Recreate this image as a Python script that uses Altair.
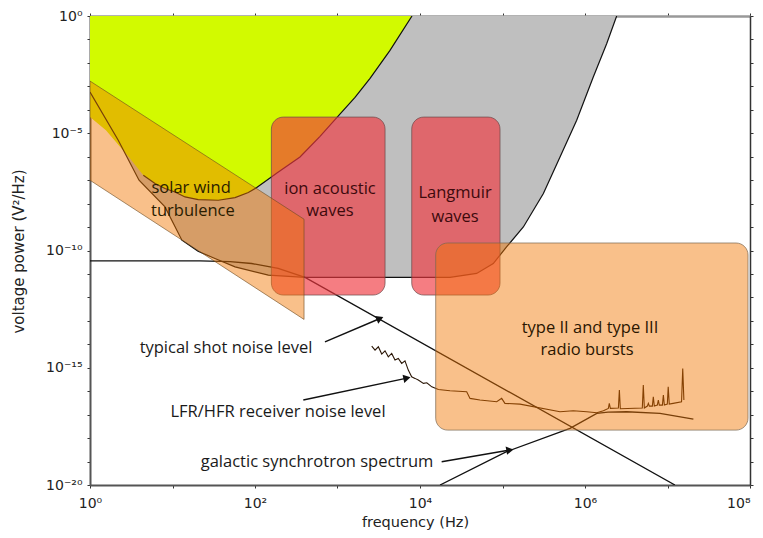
import altair as alt
import pandas as pd

# ---------------- data ----------------
# lower boundary of the grey region (quasi-thermal noise envelope)
gray_f = [1, 2.2, 3.93, 8.11, 13.0, 20.4, 32.7, 57.3, 145, 404, 2.31e4, 4.86e4, 7.73e4,
          1.12e5, 1.79e5, 3.13e5, 4.98e5, 7.93e5, 1.26e6, 1.83e6, 2.42e6]
gray_p = [5.73e-4, 5.01e-6, 9.89e-8, 7.21e-9, 2.75e-10, 9.3e-11, 4.56e-11, 2.0e-11, 8.87e-12,
          7.2e-12, 7.2e-12, 1.05e-11, 2.79e-11, 1.42e-10, 1.01e-9, 2.69e-8, 9.7e-7, 3.56e-5,
          2.49e-3, 6.6e-2, 1.0]

# lower boundary of the yellow-green region
yellow_f = [1, 1.56, 2.97, 4.43, 6.14, 8.11, 10.7, 14.2, 20.5, 35.9, 57.3, 83.0, 105, 190,
            351, 614, 986, 1630, 2480, 4330, 8000]
yellow_p = [4.92e-5, 1.34e-5, 9.44e-7, 1.61e-7, 7.16e-8, 4.38e-8, 3.14e-8, 1.92e-8, 1.49e-8,
            1.39e-8, 1.81e-8, 2.96e-8, 4.83e-8, 2.17e-7, 9.73e-7, 7.41e-6, 4.79e-5, 3.40e-4,
            2.19e-3, 3.42e-2, 1.0]

# upper limit of the plot (regions extend to it)
top_p = 1.0

# solar wind turbulence band (parallelogram)
band_f = [1, 393]
band_top = [1.68e-3, 2.16e-9]
band_bottom = [9.89e-8, 1.15e-13]

# typical shot noise level
shot_f = [1, 21.5, 49.8, 91.2, 191, 404, 1.23e7]
shot_p = [3.61e-11, 3.61e-11, 3.33e-11, 2.79e-11, 1.71e-11, 7.08e-12, 1e-20]

# galactic synchrotron spectrum
gal_f = [1.75e4, 1.12e5, 6.58e5, 1.39e6, 1.9e6, 3.2e6, 8.11e6, 2.06e7]
gal_p = [1e-20, 2.63e-19, 2.61e-18, 1.14e-17, 1.29e-17, 1.33e-17, 1.14e-17, 6.49e-18]

# LFR/HFR receiver noise level
rx_f = [2600, 2851, 3126, 3436, 3767, 4130, 4539, 4977, 5458, 5998, 6577, 7211, 7925, 8690,
        9528, 1.10e4, 1.21e4, 1.39e4, 1.67e4, 2.31e4, 3.68e4, 4.04e4, 5.33e4, 8.51e4, 9.77e4,
        1.07e5, 1.63e5, 4.98e5, 7.21e5, 1.05e6, 1.39e6, 1.67e6, 1.92e6, 1.97e6, 2.03e6,
        2.54e6, 2.61e6, 2.68e6, 4.95e6, 5.09e6, 5.24e6, 5.70e6, 5.86e6, 6.03e6, 6.55e6,
        6.73e6, 6.92e6, 7.53e6, 7.74e6, 7.96e6, 8.67e6, 8.91e6, 9.16e6, 9.95e6, 1.02e7,
        1.05e7, 1.17e7, 1.48e7, 1.53e7, 1.58e7]
rx_p = [8.38e-15, 5.66e-15, 7.82e-15, 3.82e-15, 5.27e-15, 2.92e-15, 4.08e-15, 2.12e-15,
        2.50e-15, 1.53e-15, 1.98e-15, 7.94e-16, 4.11e-16, 3.52e-16, 2.98e-16, 2.15e-16,
        2.29e-16, 1.54e-16, 1.19e-16, 1.04e-16, 9.44e-17, 4.94e-17, 4.19e-17, 3.54e-17,
        4.94e-17, 3.03e-17, 2.82e-17, 1.33e-17, 1.47e-17, 1.33e-17, 1.20e-17, 1.47e-17,
        1.85e-17, 3.03e-17, 1.85e-17, 1.91e-17, 1.12e-16, 1.78e-17, 1.91e-17, 1.82e-16,
        1.91e-17, 2.32e-17, 3.03e-17, 2.32e-17, 2.32e-17, 5.78e-17, 2.32e-17, 2.56e-17,
        4.19e-17, 2.56e-17, 2.56e-17, 6.84e-17, 2.56e-17, 2.82e-17, 1.54e-16, 2.82e-17,
        3.03e-17, 3.5e-17, 9.38e-16, 4.19e-17]

# red boxes: ion acoustic waves, Langmuir waves
red_f0 = [158, 7940]
red_f1 = [3770, 9.33e4]
red_p0 = [4.9e-5, 4.9e-5]
red_p1 = [1.26e-12, 1.26e-12]

# type II / type III radio burst box
burst_f0 = [1.55e4]
burst_f1 = [9.46e7]
burst_p0 = [2.09e-10]
burst_p1 = [2.19e-18]

# annotation texts
label_text = ["solar wind", "turbulence", "ion acoustic", "waves", "Langmuir", "waves",
              "type II and type III", "radio bursts", "typical shot noise level",
              "LFR/HFR receiver noise level", "galactic synchrotron spectrum"]
label_f = [16.8, 17.7, 811, 811, 2.66e4, 2.66e4, 1.15e6, 1.06e6, 44.5, 190, 565]
label_p = [4.5e-8, 4.86e-9, 4.38e-8, 4.86e-9, 2.85e-8, 2.70e-9, 4.75e-14, 5.65e-15,
           6.68e-15, 1.33e-17, 9.84e-20]
label_group = ["solar", "solar", "red", "red", "red", "red", "burst", "burst",
               "plain", "plain", "plain"]

# arrows (start -> head)
arrow_f0 = [705, 385, 1.83e4]
arrow_p0 = [1.28e-14, 4.19e-17, 9.84e-20]
arrow_f1 = [3273, 6950, 1.23e5]
arrow_p1 = [1.26e-13, 3.62e-16, 3.10e-19]
arrow_angle = [67, 78, 80]

x_ticks = [1, 10, 1e2, 1e3, 1e4, 1e5, 1e6, 1e7, 1e8]
y_ticks = [1e-20, 1e-19, 1e-18, 1e-17, 1e-16, 1e-15, 1e-14, 1e-13, 1e-12, 1e-11, 1e-10,
           1e-9, 1e-8, 1e-7, 1e-6, 1e-5, 1e-4, 1e-3, 1e-2, 1e-1, 1]

# ---------------- frames ----------------
gray_df = pd.DataFrame({"f": gray_f, "p": gray_p, "top": top_p})
yellow_df = pd.DataFrame({"f": yellow_f, "p": yellow_p, "top": top_p})
yellow_line_df = yellow_df.iloc[3:]
band_df = pd.DataFrame({"f": band_f, "p": band_top, "p2": band_bottom})
shot_df = pd.DataFrame({"f": shot_f, "p": shot_p})
gal_df = pd.DataFrame({"f": gal_f, "p": gal_p})
rx_df = pd.DataFrame({"f": rx_f, "p": rx_p, "i": list(range(len(rx_f)))})
red_df = pd.DataFrame({"f": red_f0, "f2": red_f1, "p": red_p0, "p2": red_p1})
burst_df = pd.DataFrame({"f": burst_f0, "f2": burst_f1, "p": burst_p0, "p2": burst_p1})
lab_df = pd.DataFrame({"t": label_text, "f": label_f, "p": label_p, "g": label_group})
arr_rows = []
for k in range(len(arrow_f0)):
    arr_rows.append({"a": k, "o": 0, "f": arrow_f0[k], "p": arrow_p0[k]})
    arr_rows.append({"a": k, "o": 1, "f": arrow_f1[k], "p": arrow_p1[k]})
arr_df = pd.DataFrame(arr_rows)
head_df = pd.DataFrame({"f": arrow_f1, "p": arrow_p1, "ang": arrow_angle})
tick_df = pd.DataFrame({"f": [1.0], "p": [1.0]})

# ---------------- scales / axes ----------------
XS = alt.Scale(type="log", domain=[1, 1e8])
YS = alt.Scale(type="log", domain=[1e-20, 1])

ex = "round(log(datum.value)/LN10)"
x_label = (f"({ex} % 2 == 0) ? '10' + ({ex} == 0 ? '⁰' : {ex} == 2 ? '²' : "
           f"{ex} == 4 ? '⁴' : {ex} == 6 ? '⁶' : '⁸') : ''")
y_label = (f"({ex} % 5 == 0) ? '10' + ({ex} == 0 ? '⁰' : {ex} == -5 ? '⁻⁵' : "
           f"{ex} == -10 ? '⁻¹⁰' : {ex} == -15 ? '⁻¹⁵' : '⁻²⁰') : ''")

x_axis = alt.Axis(orient="bottom", values=x_ticks, labelExpr=x_label,
                  title="frequency  (Hz)", grid=False,
                  tickSize=3, tickColor="#333", domainColor="#555", domainWidth=2,
                  labelFont="DejaVu Sans", labelFontSize=14, labelColor="#222",
                  labelPadding=8, labelFlush=False,
                  labelAlign={"condition": {"test": "datum.value > 5e7", "value": "right"},
                              "value": "center"},
                  titleFont="DejaVu Sans", titleFontSize=14.5, titleFontWeight="normal",
                  titleColor="#222", titleX=325, titleY=37, titleBaseline="middle",
                  titleAlign="center")
y_axis = alt.Axis(orient="left", values=y_ticks, labelExpr=y_label,
                  title="voltage  power  (V²/Hz)",
                  grid=False, tickSize=3, tickColor="#333", domainColor="#555",
                  domainWidth=2, labelFont="DejaVu Sans", labelFontSize=14,
                  labelColor="#222", labelPadding=5, labelFlush=False,
                  titleFont="DejaVu Sans", titleFontSize=15, titleFontWeight="normal",
                  titleColor="#222", titleX=-72, titleY=235, titleBaseline="middle",
                  titleAlign="center", titleAngle=270)
x_top = alt.Axis(orient="top", values=x_ticks, labels=False, title=None, grid=False,
                 tickSize=3, tickColor="#333", domainColor="#999", domainWidth=2.5)
y_right = alt.Axis(orient="right", values=y_ticks, labels=False, title=None, grid=False,
                   tickSize=3, tickColor="#333", domainColor="#333", domainWidth=1.5)


def X(field="f", axis=None):
    return alt.X(f"{field}:Q", scale=XS, axis=axis)


def Y(field="p", axis=None):
    return alt.Y(f"{field}:Q", scale=YS, axis=axis, stack=None)


gray_area = alt.Chart(gray_df).mark_area(color="#bfbfbf", clip=True).encode(
    x=X(), y=Y(), y2="top:Q")
yellow_area = alt.Chart(yellow_df).mark_area(color="#d2fa00", clip=True).encode(
    x=X(), y=Y(), y2="top:Q")

gray_line = alt.Chart(gray_df).mark_line(color="#111", strokeWidth=1.2, clip=True).encode(
    x=X(), y=Y())
yellow_line = alt.Chart(yellow_line_df).mark_line(color="#111", strokeWidth=1.2,
                                                  clip=True).encode(x=X(), y=Y())
shot_line = alt.Chart(shot_df).mark_line(color="#111", strokeWidth=1.3, clip=True).encode(
    x=X(), y=Y())
gal_line = alt.Chart(gal_df).mark_line(color="#111", strokeWidth=1.3, clip=True).encode(
    x=X(), y=Y())
rx_line = alt.Chart(rx_df).mark_line(color="#2a1606", strokeWidth=1.1, clip=True).encode(
    x=X(), y=Y(), order="i:Q")

red_boxes = alt.Chart(red_df).mark_rect(cornerRadius=12, color="#f0373f", fillOpacity=0.65,
                                        stroke="#6a4848", strokeWidth=1,
                                        strokeOpacity=0.7).encode(
    x=X(), x2="f2", y=Y(), y2="p2")

band = alt.Chart(band_df).mark_area(color="#f27600", fillOpacity=0.46, stroke="#6a4a20",
                                    strokeWidth=1, strokeOpacity=0.6, clip=True).encode(
    x=X(), y=Y(), y2="p2")

burst_box = alt.Chart(burst_df).mark_rect(cornerRadius=12, color="#f27600", fillOpacity=0.46,
                                          stroke="#7a6650", strokeWidth=1,
                                          strokeOpacity=0.7).encode(
    x=X(), x2="f2", y=Y(), y2="p2")

labels = alt.Chart(lab_df).mark_text(font="Open Sans", fontSize=16.5, align="center",
                                     baseline="middle").encode(
    x=X(), y=Y(), text="t:N",
    color=alt.Color("g:N", scale=alt.Scale(domain=["solar", "red", "burst", "plain"],
                                           range=["#2a1c00", "#3d0a0c", "#2b1600", "#1a1a1a"]),
                    legend=None))

arrows = alt.Chart(arr_df).mark_line(color="#111", strokeWidth=1.4).encode(
    x=X(), y=Y(), detail="a:N", order="o:Q")
heads = alt.Chart(head_df).mark_point(shape="triangle-up", filled=True, size=70, color="#111",
                                      opacity=1).encode(
    x=X(), y=Y(), angle=alt.Angle("ang:Q", scale=None))

axes_main = alt.Chart(tick_df).mark_point(opacity=0).encode(
    x=X(axis=x_axis), y=Y(axis=y_axis))
axes_frame = alt.Chart(tick_df).mark_point(opacity=0).encode(
    x=X(axis=x_top), y=Y(axis=y_right))

chart = alt.layer(
    gray_area, yellow_area, gray_line, yellow_line, shot_line, gal_line, rx_line,
    red_boxes, band, burst_box, labels, arrows, heads, axes_main, axes_frame
).resolve_axis(x="independent", y="independent").properties(
    width=660, height=469,
    background="white",
    autosize=alt.AutoSizeParams(type="none"),
    padding={"left": 82, "top": 8, "right": 5, "bottom": 45},
).configure_view(strokeWidth=0)

chart.save("out.html", embed_options={"renderer": "svg", "actions": False})
